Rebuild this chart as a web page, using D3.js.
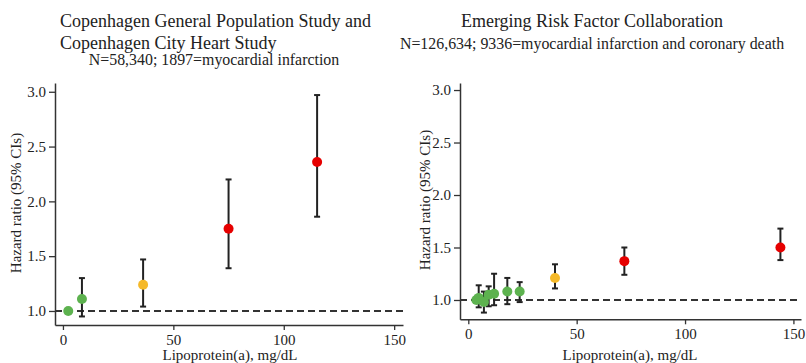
<!DOCTYPE html>
<html>
<head>
<meta charset="utf-8">
<script src="https://cdn.jsdelivr.net/npm/d3@7"></script>
<style>
  body { margin: 0; background: #fff; }
  svg text { font-family: "Liberation Serif", "Times New Roman", serif; fill: #222; }
</style>
</head>
<body>
<svg id="chart" width="806" height="363"></svg>
<script>
// Copenhagen General Population Study + Copenhagen City Heart Study
var lpaCph = [2.4, 8.6, 36.3, 75.0, 115.1];
var hrCph  = [1.00, 1.11, 1.24, 1.75, 2.36];
var loCph  = [null, 0.95, 1.04, 1.39, 1.86];
var hiCph  = [null, 1.30, 1.47, 2.20, 2.97];
var grpCph = ["low", "low", "mid", "high", "high"];

// Emerging Risk Factor Collaboration
var lpaErfc = [3.7, 4.8, 7.2, 9.4, 11.9, 18.0, 23.7, 40.0, 72.0, 144.0];
var hrErfc  = [1.00, 1.02, 0.98, 1.05, 1.06, 1.08, 1.08, 1.21, 1.37, 1.50];
var loErfc  = [null, 0.93, 0.88, 0.94, 0.95, 0.96, 0.98, 1.11, 1.24, 1.38];
var hiErfc  = [null, 1.14, 1.08, 1.13, 1.25, 1.21, 1.17, 1.34, 1.50, 1.68];
var grpErfc = ["low", "low", "low", "low", "low", "low", "low", "mid", "high", "high"];

var xTicks = [0, 50, 100, 150];
var yTicks = [1.0, 1.5, 2.0, 2.5, 3.0];
var groupColor = {low: "#5db24f", mid: "#f5b929", high: "#e60000"};

var svg = d3.select("#chart");

function panel(opt) {
    var data = opt.x.map(function(d, i) {
        return {x: d, hr: opt.hr[i], lo: opt.lo[i], hi: opt.hi[i], g: opt.grp[i]};
    });

    var x = d3.scaleLinear().domain(opt.xDomain).range([opt.left, opt.right]);
    var y = d3.scaleLinear().domain(opt.yDomain).range([opt.bottom, opt.top]);

    var g = svg.append("g");

    // titles
    opt.titles.forEach(function(t) {
        g.append("text")
            .attr("x", t.x).attr("y", t.y)
            .attr("text-anchor", t.anchor)
            .style("font-size", t.size + "px")
            .text(t.text);
    });

    // reference line at HR = 1
    g.append("line")
        .attr("x1", opt.left).attr("x2", opt.right)
        .attr("y1", y(1)).attr("y2", y(1))
        .attr("stroke", "#333").attr("stroke-width", 2)
        .attr("stroke-dasharray", "7,4");

    // axes
    var yAxis = g.append("g")
        .attr("transform", "translate(" + opt.left + ",0)")
        .call(d3.axisLeft(y).tickValues(yTicks).tickFormat(d3.format(".1f"))
            .tickSize(6).tickSizeOuter(0).tickPadding(3));
    var xAxis = g.append("g")
        .attr("transform", "translate(0," + opt.bottom + ")")
        .call(d3.axisBottom(x).tickValues(xTicks)
            .tickSize(5).tickSizeOuter(0).tickPadding(4));
    [xAxis, yAxis].forEach(function(a) {
        a.select(".domain").attr("stroke", "#333").attr("stroke-width", 1.5);
        a.selectAll(".tick line").attr("stroke", "#333").attr("stroke-width", 1.3);
        a.selectAll(".tick text")
            .style("font-family", "'Liberation Serif', 'Times New Roman', serif")
            .style("font-size", "15px").attr("fill", "#222");
    });

    // axis labels
    g.append("text")
        .attr("x", (opt.left + opt.right) / 2 + opt.xLabelShift)
        .attr("y", 360)
        .attr("text-anchor", "middle")
        .style("font-size", "15px")
        .text("Lipoprotein(a), mg/dL");
    g.append("text")
        .attr("transform", "translate(" + opt.yLabelX + "," + opt.yLabelY + ") rotate(-90)")
        .attr("text-anchor", "middle")
        .style("font-size", "15px")
        .text("Hazard ratio (95% CIs)");

    // error bars
    var withCi = data.filter(function(d) { return d.lo != null; });
    var bars = g.selectAll(".ci").data(withCi).enter().append("g").attr("class", "ci")
        .attr("stroke", "#222").attr("stroke-width", 2);
    bars.append("line")
        .attr("x1", function(d) { return x(d.x); })
        .attr("x2", function(d) { return x(d.x); })
        .attr("y1", function(d) { return y(d.lo); })
        .attr("y2", function(d) { return y(d.hi); });
    ["lo", "hi"].forEach(function(k) {
        bars.append("line")
            .attr("x1", function(d) { return x(d.x) - 3; })
            .attr("x2", function(d) { return x(d.x) + 3; })
            .attr("y1", function(d) { return y(d[k]); })
            .attr("y2", function(d) { return y(d[k]); });
    });

    // points
    g.selectAll(".pt").data(data).enter().append("circle")
        .attr("class", "pt")
        .attr("cx", function(d) { return x(d.x); })
        .attr("cy", function(d) { return y(d.hr); })
        .attr("r", 5)
        .attr("fill", function(d) { return groupColor[d.g]; });
}

panel({
    x: lpaCph, hr: hrCph, lo: loCph, hi: hiCph, grp: grpCph,
    left: 55, right: 403, top: 83, bottom: 325,
    xDomain: [-3.6, 154], yDomain: [0.872, 3.08],
    xLabelShift: 1, yLabelX: 21, yLabelY: 203,
    titles: [
        {text: "Copenhagen General Population Study and", x: 60, y: 27, size: 18, anchor: "start"},
        {text: "Copenhagen City Heart Study", x: 60, y: 49, size: 18, anchor: "start"},
        {text: "N=58,340; 1897=myocardial infarction", x: 214, y: 65, size: 15.9, anchor: "middle"}
    ]
});

panel({
    x: lpaErfc, hr: hrErfc, lo: loErfc, hi: hiErfc, grp: grpErfc,
    left: 460, right: 801, top: 83, bottom: 319.3,
    xDomain: [-3.83, 153.5], yDomain: [0.816, 3.067],
    xLabelShift: -0.5, yLabelX: 430, yLabelY: 200,
    titles: [
        {text: "Emerging Risk Factor Collaboration", x: 592, y: 27, size: 18, anchor: "middle"},
        {text: "N=126,634; 9336=myocardial infarction and coronary death", x: 592, y: 49, size: 15.9, anchor: "middle"}
    ]
});
</script>
</body>
</html>
